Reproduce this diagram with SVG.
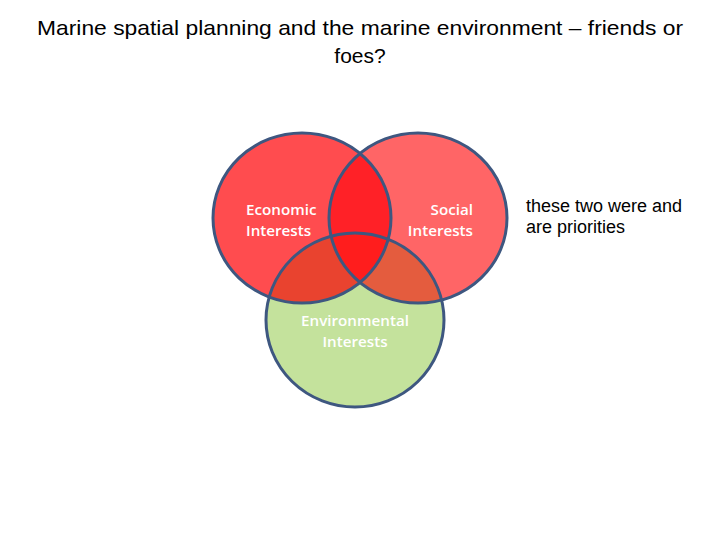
<svg xmlns="http://www.w3.org/2000/svg" width="720" height="540" viewBox="0 0 720 540">
<style>
.title{font-family:"Liberation Sans",Arial,sans-serif;font-size:21px;fill:#000;text-anchor:middle}
.lbl{font-family:"Open Sans","Liberation Sans",sans-serif;font-size:15.2px;font-weight:600;fill:#fff}
.note{font-family:"Liberation Sans",Arial,sans-serif;font-size:18px;fill:#000}
.ring{fill:none;stroke:#3E5780;stroke-width:3}
</style>
<defs>
<clipPath id="cEco"><ellipse cx="302" cy="218" rx="89" ry="85"/></clipPath>
<clipPath id="cSoc"><ellipse cx="418" cy="218" rx="89" ry="85"/></clipPath>
</defs>
<rect width="720" height="540" fill="#fff"/>
<text class="title" x="360" y="35" textLength="646" lengthAdjust="spacingAndGlyphs">Marine spatial planning and the marine environment – friends or</text>
<text class="title" x="360" y="63">foes?</text>
<g id="environmental">
<ellipse cx="355" cy="320" rx="89" ry="87" fill="#C4E29C"/>
</g>
<g id="economic">
<ellipse cx="302" cy="218" rx="89" ry="85" fill="#FF4C4F"/>
</g>
<g id="social">
<ellipse cx="418" cy="218" rx="89" ry="85" fill="#FF6566"/>
</g>
<g id="overlaps">
<g clip-path="url(#cEco)"><ellipse cx="355" cy="320" rx="89" ry="87" fill="#E9432F"/></g>
<g clip-path="url(#cSoc)"><ellipse cx="355" cy="320" rx="89" ry="87" fill="#E45C3E"/></g>
<g clip-path="url(#cEco)"><ellipse cx="418" cy="218" rx="89" ry="85" fill="#FF2127"/></g>
<g clip-path="url(#cEco)"><g clip-path="url(#cSoc)"><ellipse cx="355" cy="320" rx="89" ry="87" fill="#FF1D1D"/></g></g>
</g>
<g id="outlines">
<ellipse class="ring" cx="355" cy="320" rx="89" ry="87"/>
<ellipse class="ring" cx="302" cy="218" rx="89" ry="85"/>
<ellipse class="ring" cx="418" cy="218" rx="89" ry="85"/>
</g>
<g id="labels">
<text class="lbl" x="246" y="215">Economic</text>
<text class="lbl" x="246" y="236">Interests</text>
<text class="lbl" x="473" y="215" text-anchor="end">Social</text>
<text class="lbl" x="473" y="236" text-anchor="end">Interests</text>
<text class="lbl" x="355" y="326" text-anchor="middle">Environmental</text>
<text class="lbl" x="355" y="347" text-anchor="middle">Interests</text>
</g>
<text class="note" x="526" y="212">these two were and</text>
<text class="note" x="526" y="233">are priorities</text>
</svg>
